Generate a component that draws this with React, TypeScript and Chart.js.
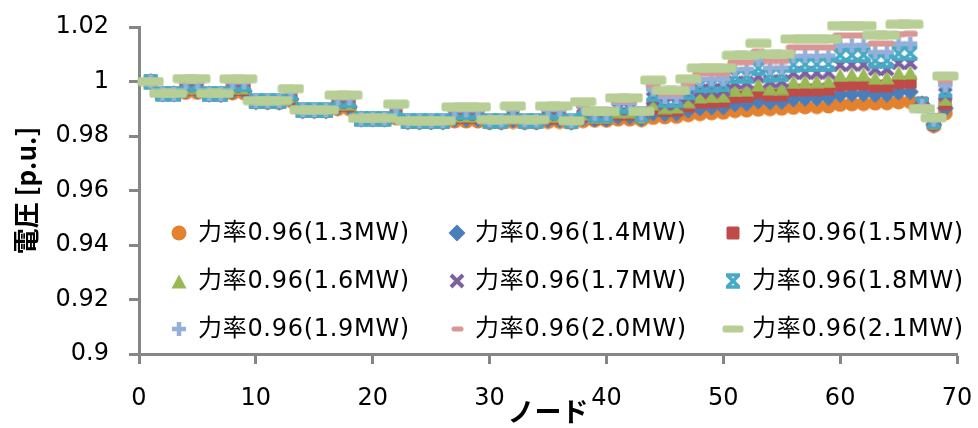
import React, { useEffect, useRef } from "react";
import { Chart, registerables } from "chart.js";

Chart.register(...registerables);

// ---------------- data ----------------
const nodes = [
  1, 2, 3, 4, 5, 6, 7, 8, 9, 10, 11, 12, 13, 14, 15, 16, 17, 18, 19, 20,
  21, 22, 23, 24, 25, 26, 27, 28, 29, 30, 31, 32, 33, 34, 35, 36, 37, 38, 39, 40,
  41, 42, 43, 44, 45, 46, 47, 48, 49, 50, 51, 52, 53, 54, 55, 56, 57, 58, 59, 60,
  61, 62, 63, 64, 65, 66, 67, 68, 69,
];

const seriesNames = [
  "力率0.96(1.3MW)",
  "力率0.96(1.4MW)",
  "力率0.96(1.5MW)",
  "力率0.96(1.6MW)",
  "力率0.96(1.7MW)",
  "力率0.96(1.8MW)",
  "力率0.96(1.9MW)",
  "力率0.96(2.0MW)",
  "力率0.96(2.1MW)",
];

const v13 = [
  1.0000, 0.9955, 0.9955, 0.9960, 0.9960, 0.9953, 0.9952, 0.9958, 0.9958, 0.9925,
  0.9924, 0.9923, 0.9930, 0.9893, 0.9892, 0.9892, 0.9900, 0.9900, 0.9862, 0.9861,
  0.9861, 0.9866, 0.9852, 0.9851, 0.9851, 0.9851, 0.9855, 0.9855, 0.9855, 0.9850,
  0.9850, 0.9853, 0.9850, 0.9850, 0.9853, 0.9853, 0.9850, 0.9856, 0.9858, 0.9858,
  0.9862, 0.9862, 0.9860, 0.9868, 0.9870, 0.9872, 0.9878, 0.9882, 0.9885, 0.9887,
  0.9893, 0.9895, 0.9898, 0.9900, 0.9902, 0.9905, 0.9907, 0.9908, 0.9910, 0.9916,
  0.9918, 0.9919, 0.9921, 0.9922, 0.9925, 0.9926, 0.9915, 0.9838, 0.9885,
];
const v14 = [
  1.0000, 0.9955, 0.9955, 0.9966, 0.9966, 0.9953, 0.9953, 0.9964, 0.9964, 0.9926,
  0.9925, 0.9924, 0.9936, 0.9893, 0.9893, 0.9893, 0.9906, 0.9906, 0.9862, 0.9862,
  0.9862, 0.9872, 0.9853, 0.9852, 0.9852, 0.9852, 0.9862, 0.9862, 0.9862, 0.9851,
  0.9851, 0.9860, 0.9851, 0.9851, 0.9860, 0.9860, 0.9851, 0.9865, 0.9862, 0.9862,
  0.9872, 0.9872, 0.9864, 0.9885, 0.9882, 0.9884, 0.9895, 0.9903, 0.9906, 0.9907,
  0.9918, 0.9920, 0.9928, 0.9925, 0.9927, 0.9936, 0.9938, 0.9939, 0.9941, 0.9952,
  0.9954, 0.9955, 0.9952, 0.9953, 0.9961, 0.9962, 0.9918, 0.9842, 0.9902,
];
const v15 = [
  1.0000, 0.9955, 0.9955, 0.9973, 0.9973, 0.9954, 0.9953, 0.9971, 0.9971, 0.9926,
  0.9926, 0.9925, 0.9941, 0.9894, 0.9893, 0.9893, 0.9913, 0.9913, 0.9863, 0.9862,
  0.9862, 0.9879, 0.9853, 0.9852, 0.9852, 0.9852, 0.9868, 0.9868, 0.9868, 0.9853,
  0.9853, 0.9867, 0.9853, 0.9853, 0.9867, 0.9867, 0.9852, 0.9874, 0.9866, 0.9866,
  0.9882, 0.9882, 0.9868, 0.9902, 0.9894, 0.9896, 0.9911, 0.9924, 0.9926, 0.9928,
  0.9944, 0.9945, 0.9959, 0.9950, 0.9952, 0.9968, 0.9969, 0.9970, 0.9972, 0.9988,
  0.9990, 0.9991, 0.9983, 0.9984, 0.9996, 0.9997, 0.9920, 0.9845, 0.9919,
];
const v16 = [
  1.0000, 0.9955, 0.9955, 0.9979, 0.9979, 0.9954, 0.9954, 0.9978, 0.9978, 0.9927,
  0.9926, 0.9926, 0.9947, 0.9894, 0.9894, 0.9894, 0.9919, 0.9919, 0.9863, 0.9863,
  0.9863, 0.9885, 0.9854, 0.9853, 0.9853, 0.9853, 0.9875, 0.9875, 0.9875, 0.9854,
  0.9854, 0.9874, 0.9854, 0.9854, 0.9874, 0.9874, 0.9852, 0.9882, 0.9870, 0.9870,
  0.9891, 0.9891, 0.9871, 0.9919, 0.9906, 0.9908, 0.9928, 0.9945, 0.9947, 0.9948,
  0.9969, 0.9970, 0.9989, 0.9975, 0.9976, 0.9999, 1.0000, 1.0001, 1.0002, 1.0024,
  1.0026, 1.0026, 1.0014, 1.0015, 1.0032, 1.0033, 0.9920, 0.9849, 0.9936,
];
const v17 = [
  1.0000, 0.9955, 0.9955, 0.9986, 0.9986, 0.9955, 0.9954, 0.9984, 0.9984, 0.9927,
  0.9927, 0.9927, 0.9952, 0.9895, 0.9894, 0.9894, 0.9925, 0.9925, 0.9864, 0.9863,
  0.9863, 0.9892, 0.9854, 0.9854, 0.9854, 0.9854, 0.9881, 0.9881, 0.9881, 0.9855,
  0.9855, 0.9882, 0.9855, 0.9855, 0.9882, 0.9882, 0.9853, 0.9891, 0.9874, 0.9874,
  0.9901, 0.9901, 0.9875, 0.9937, 0.9919, 0.9920, 0.9944, 0.9966, 0.9968, 0.9969,
  0.9995, 0.9996, 1.0019, 1.0000, 1.0001, 1.0031, 1.0032, 1.0032, 1.0033, 1.0061,
  1.0062, 1.0062, 1.0046, 1.0046, 1.0068, 1.0068, 0.9918, 0.9853, 0.9953,
];
const v18 = [
  1.0000, 0.9955, 0.9955, 0.9992, 0.9992, 0.9955, 0.9955, 0.9990, 0.9990, 0.9928,
  0.9928, 0.9927, 0.9958, 0.9895, 0.9895, 0.9895, 0.9931, 0.9931, 0.9864, 0.9864,
  0.9864, 0.9898, 0.9855, 0.9854, 0.9854, 0.9854, 0.9888, 0.9888, 0.9888, 0.9856,
  0.9856, 0.9889, 0.9856, 0.9856, 0.9889, 0.9889, 0.9854, 0.9900, 0.9878, 0.9878,
  0.9911, 0.9911, 0.9879, 0.9954, 0.9931, 0.9931, 0.9961, 0.9987, 0.9988, 0.9989,
  1.0020, 1.0021, 1.0049, 1.0025, 1.0026, 1.0062, 1.0063, 1.0063, 1.0064, 1.0097,
  1.0097, 1.0098, 1.0077, 1.0077, 1.0103, 1.0104, 0.9915, 0.9856, 0.9969,
];
const v19 = [
  1.0000, 0.9955, 0.9955, 0.9998, 0.9998, 0.9955, 0.9955, 0.9997, 0.9997, 0.9929,
  0.9928, 0.9928, 0.9963, 0.9895, 0.9895, 0.9895, 0.9938, 0.9938, 0.9864, 0.9864,
  0.9864, 0.9904, 0.9855, 0.9855, 0.9855, 0.9855, 0.9894, 0.9894, 0.9894, 0.9858,
  0.9858, 0.9896, 0.9858, 0.9858, 0.9896, 0.9896, 0.9855, 0.9909, 0.9882, 0.9882,
  0.9921, 0.9921, 0.9883, 0.9971, 0.9943, 0.9943, 0.9977, 1.0008, 1.0009, 1.0009,
  1.0045, 1.0046, 1.0080, 1.0050, 1.0051, 1.0093, 1.0094, 1.0094, 1.0095, 1.0133,
  1.0133, 1.0134, 1.0108, 1.0108, 1.0139, 1.0139, 0.9910, 0.9860, 0.9986,
];
const v20 = [
  1.0000, 0.9956, 0.9956, 1.0005, 1.0005, 0.9956, 0.9956, 1.0003, 1.0003, 0.9929,
  0.9929, 0.9929, 0.9969, 0.9896, 0.9896, 0.9896, 0.9944, 0.9944, 0.9865, 0.9865,
  0.9865, 0.9911, 0.9856, 0.9855, 0.9855, 0.9855, 0.9901, 0.9901, 0.9901, 0.9859,
  0.9859, 0.9903, 0.9859, 0.9859, 0.9903, 0.9903, 0.9855, 0.9917, 0.9886, 0.9886,
  0.9930, 0.9930, 0.9886, 0.9988, 0.9955, 0.9955, 0.9994, 1.0029, 1.0029, 1.0030,
  1.0071, 1.0071, 1.0110, 1.0075, 1.0075, 1.0125, 1.0125, 1.0125, 1.0125, 1.0169,
  1.0169, 1.0169, 1.0139, 1.0139, 1.0174, 1.0175, 0.9905, 0.9863, 1.0003,
];
const v21 = [
  1.0000, 0.9956, 0.9956, 1.0011, 1.0011, 0.9956, 0.9956, 1.0010, 1.0010, 0.9930,
  0.9930, 0.9930, 0.9974, 0.9896, 0.9896, 0.9896, 0.9950, 0.9950, 0.9865, 0.9865,
  0.9865, 0.9917, 0.9856, 0.9856, 0.9856, 0.9856, 0.9907, 0.9907, 0.9907, 0.9860,
  0.9860, 0.9910, 0.9860, 0.9860, 0.9910, 0.9910, 0.9856, 0.9926, 0.9890, 0.9890,
  0.9940, 0.9940, 0.9890, 1.0005, 0.9967, 0.9967, 1.0010, 1.0050, 1.0050, 1.0050,
  1.0096, 1.0096, 1.0140, 1.0100, 1.0100, 1.0156, 1.0156, 1.0156, 1.0156, 1.0205,
  1.0205, 1.0205, 1.0170, 1.0170, 1.0210, 1.0210, 0.9900, 0.9867, 1.0020,
];

const seriesValues = [v13, v14, v15, v16, v17, v18, v19, v20, v21];

const xTicks = [0, 10, 20, 30, 40, 50, 60, 70];
const yTicks = [0.9, 0.92, 0.94, 0.96, 0.98, 1, 1.02];
const yTickLabels = ["0.9", "0.92", "0.94", "0.96", "0.98", "1", "1.02"];

// ---------------- styles ----------------
const COLORS = [
  "#E4812F",
  "#4A7EBB",
  "#BE4B48",
  "#98B954",
  "#7D60A0",
  "#46AAC5",
  "#94B0DA",
  "#D99694",
  "#B7CE95",
];
const KINDS = ["circle", "diamond", "square", "triangle", "x", "star", "plus", "dash", "longdash"];

const AXIS_GRAY = "#868686";
const TEXT_FONT = '"DejaVu Sans", "Noto Sans CJK JP", sans-serif';
const TITLE_FONT = '"Noto Sans CJK JP", "DejaVu Sans", sans-serif';

function roundRect(ctx: CanvasRenderingContext2D, x: number, y: number, w: number, h: number, r: number) {
  ctx.beginPath();
  ctx.moveTo(x + r, y);
  ctx.lineTo(x + w - r, y);
  ctx.quadraticCurveTo(x + w, y, x + w, y + r);
  ctx.lineTo(x + w, y + h - r);
  ctx.quadraticCurveTo(x + w, y + h, x + w - r, y + h);
  ctx.lineTo(x + r, y + h);
  ctx.quadraticCurveTo(x, y + h, x, y + h - r);
  ctx.lineTo(x, y + r);
  ctx.quadraticCurveTo(x, y, x + r, y);
  ctx.closePath();
}

function makeMarker(kind: string, color: string, legend = false): HTMLCanvasElement {
  const c = document.createElement("canvas");
  let w = 16, h = 16;
  if (kind === "diamond") { w = 18; h = 18; }
  if (kind === "square") { w = 14; h = 14; }
  if (kind === "triangle") { w = 16; h = 15; }
  if (kind === "dash") { w = legend ? 13 : 16; h = legend ? 6 : 7; }
  if (kind === "longdash") { w = legend ? 22 : 27; h = legend ? 8 : 10; }
  c.width = w;
  c.height = h;
  const ctx = c.getContext("2d")!;
  ctx.fillStyle = color;
  ctx.strokeStyle = color;
  switch (kind) {
    case "circle":
      ctx.beginPath();
      ctx.arc(w / 2, h / 2, 7.5, 0, Math.PI * 2);
      ctx.fill();
      break;
    case "diamond":
      ctx.beginPath();
      ctx.moveTo(w / 2, 0.5);
      ctx.lineTo(w - 0.5, h / 2);
      ctx.lineTo(w / 2, h - 0.5);
      ctx.lineTo(0.5, h / 2);
      ctx.closePath();
      ctx.fill();
      break;
    case "square":
      roundRect(ctx, 0.5, 0.5, w - 1, h - 1, 1.5);
      ctx.fill();
      break;
    case "triangle":
      ctx.beginPath();
      ctx.moveTo(w / 2, 0.5);
      ctx.lineTo(w - 0.5, h - 0.5);
      ctx.lineTo(0.5, h - 0.5);
      ctx.closePath();
      ctx.fill();
      break;
    case "x":
      ctx.lineWidth = 4;
      ctx.beginPath();
      ctx.moveTo(2, 2);
      ctx.lineTo(w - 2, h - 2);
      ctx.moveTo(w - 2, 2);
      ctx.lineTo(2, h - 2);
      ctx.stroke();
      break;
    case "star":
      ctx.lineWidth = 3.5;
      ctx.beginPath();
      ctx.moveTo(2, 2);
      ctx.lineTo(w - 2, h - 2);
      ctx.moveTo(w - 2, 2);
      ctx.lineTo(2, h - 2);
      ctx.moveTo(1, 2);
      ctx.lineTo(w - 1, 2);
      ctx.moveTo(1, h - 2);
      ctx.lineTo(w - 1, h - 2);
      ctx.stroke();
      break;
    case "plus":
      ctx.lineWidth = 4.5;
      ctx.beginPath();
      ctx.moveTo(w / 2, 1);
      ctx.lineTo(w / 2, h - 1);
      ctx.moveTo(1, h / 2);
      ctx.lineTo(w - 1, h / 2);
      ctx.stroke();
      break;
    case "dash":
    case "longdash":
      roundRect(ctx, 0.5, 0.5, w - 1, h - 1, 2.5);
      ctx.fill();
      break;
  }
  return c;
}

// legend layout (inside plot area, 3 columns x 3 rows)
const LEG_MARKER_X = [179, 457, 733];
const LEG_TEXT_X = [198, 475, 752];
const LEG_ROW_Y = [233, 281, 329];

export default function App() {
  const ref = useRef<HTMLCanvasElement | null>(null);

  useEffect(() => {
    if (!ref.current) return;
    const chartMarkers = KINDS.map((k, i) => makeMarker(k, COLORS[i]));
    const legendMarkers = KINDS.map((k, i) => makeMarker(k, COLORS[i], true));

    const legendPlugin = {
      id: "gridLegend",
      afterDraw(chart: any) {
        const ctx = chart.ctx as CanvasRenderingContext2D;
        ctx.save();
        ctx.font = `24px ${TEXT_FONT}`;
        try {
          (ctx as any).letterSpacing = "0.7px";
        } catch (e) {
          /* ignore */
        }
        ctx.textBaseline = "middle";
        ctx.textAlign = "left";
        ctx.fillStyle = "#000";
        seriesNames.forEach((name, i) => {
          const col = i % 3;
          const row = Math.floor(i / 3);
          const img = legendMarkers[i];
          const mx = LEG_MARKER_X[col];
          const my = LEG_ROW_Y[row];
          ctx.drawImage(img, Math.round(mx - img.width / 2), Math.round(my - img.height / 2));
          ctx.fillText(name, LEG_TEXT_X[col], my + 1);
        });
        ctx.restore();
      },
    };

    const chart = new Chart(ref.current, {
      type: "scatter",
      data: {
        datasets: seriesNames.map((name, i) => ({
          label: name,
          data: nodes.map((n, j) => ({ x: n, y: seriesValues[i][j] })),
          pointStyle: chartMarkers[i] as any,
          pointRadius: 8,
          backgroundColor: COLORS[i],
          borderColor: COLORS[i],
          showLine: false,
          clip: false as any,
          order: 8 - i,
        })),
      },
      options: {
        animation: false,
        responsive: false,
        devicePixelRatio: 1,
        events: [],
        layout: { padding: { top: 27, right: 21, left: 0, bottom: 0 } },
        plugins: {
          legend: { display: false },
          tooltip: { enabled: false },
        },
        scales: {
          x: {
            type: "linear",
            min: 0,
            max: 70,
            afterBuildTicks: (s: any) => {
              s.ticks = xTicks.map((v) => ({ value: v }));
            },
            afterFit: (s: any) => {
              s.height = 74;
              s.paddingLeft = 0;
              s.paddingRight = 0;
            },
            ticks: {
              color: "#000",
              font: { family: TEXT_FONT, size: 24 },
              padding: 20,
              maxRotation: 0,
              callback: (v: any) => String(v),
            },
            grid: {
              display: true,
              drawOnChartArea: false,
              drawTicks: true,
              tickLength: 10,
              tickWidth: 3,
              tickColor: AXIS_GRAY,
            },
            border: { display: true, color: AXIS_GRAY, width: 3 },
            title: {
              display: true,
              text: "ノード",
              color: "#000",
              font: { family: TITLE_FONT, size: 27, weight: "bold" },
              padding: { top: 0, bottom: 0 },
            },
          },
          y: {
            type: "linear",
            min: 0.9,
            max: 1.02,
            afterBuildTicks: (s: any) => {
              s.ticks = yTicks.map((v) => ({ value: v }));
            },
            afterFit: (s: any) => {
              s.width = 139;
              s.paddingTop = 0;
              s.paddingBottom = 0;
            },
            ticks: {
              color: "#000",
              font: { family: TEXT_FONT, size: 24 },
              padding: 20,
              callback: (v: any) => {
                const idx = yTicks.findIndex((t) => Math.abs(t - v) < 1e-6);
                return idx >= 0 ? yTickLabels[idx] : "";
              },
            },
            grid: {
              display: true,
              drawOnChartArea: false,
              drawTicks: true,
              tickLength: 10,
              tickWidth: 3,
              tickColor: AXIS_GRAY,
            },
            border: { display: true, color: AXIS_GRAY, width: 3 },
            title: {
              display: true,
              text: "電圧 [p.u.]",
              color: "#000",
              font: { family: TITLE_FONT, size: 26, weight: "bold" },
              padding: { top: 11, bottom: 0 },
            },
          },
        },
      },
      plugins: [legendPlugin],
    });
    return () => chart.destroy();
  }, []);

  return (
    <div style={{ position: "absolute", left: 0, top: 0, width: 978, height: 428, background: "#fff" }}>
      <canvas ref={ref} width={978} height={428} style={{ display: "block", width: 978, height: 428 }} />
    </div>
  );
}
